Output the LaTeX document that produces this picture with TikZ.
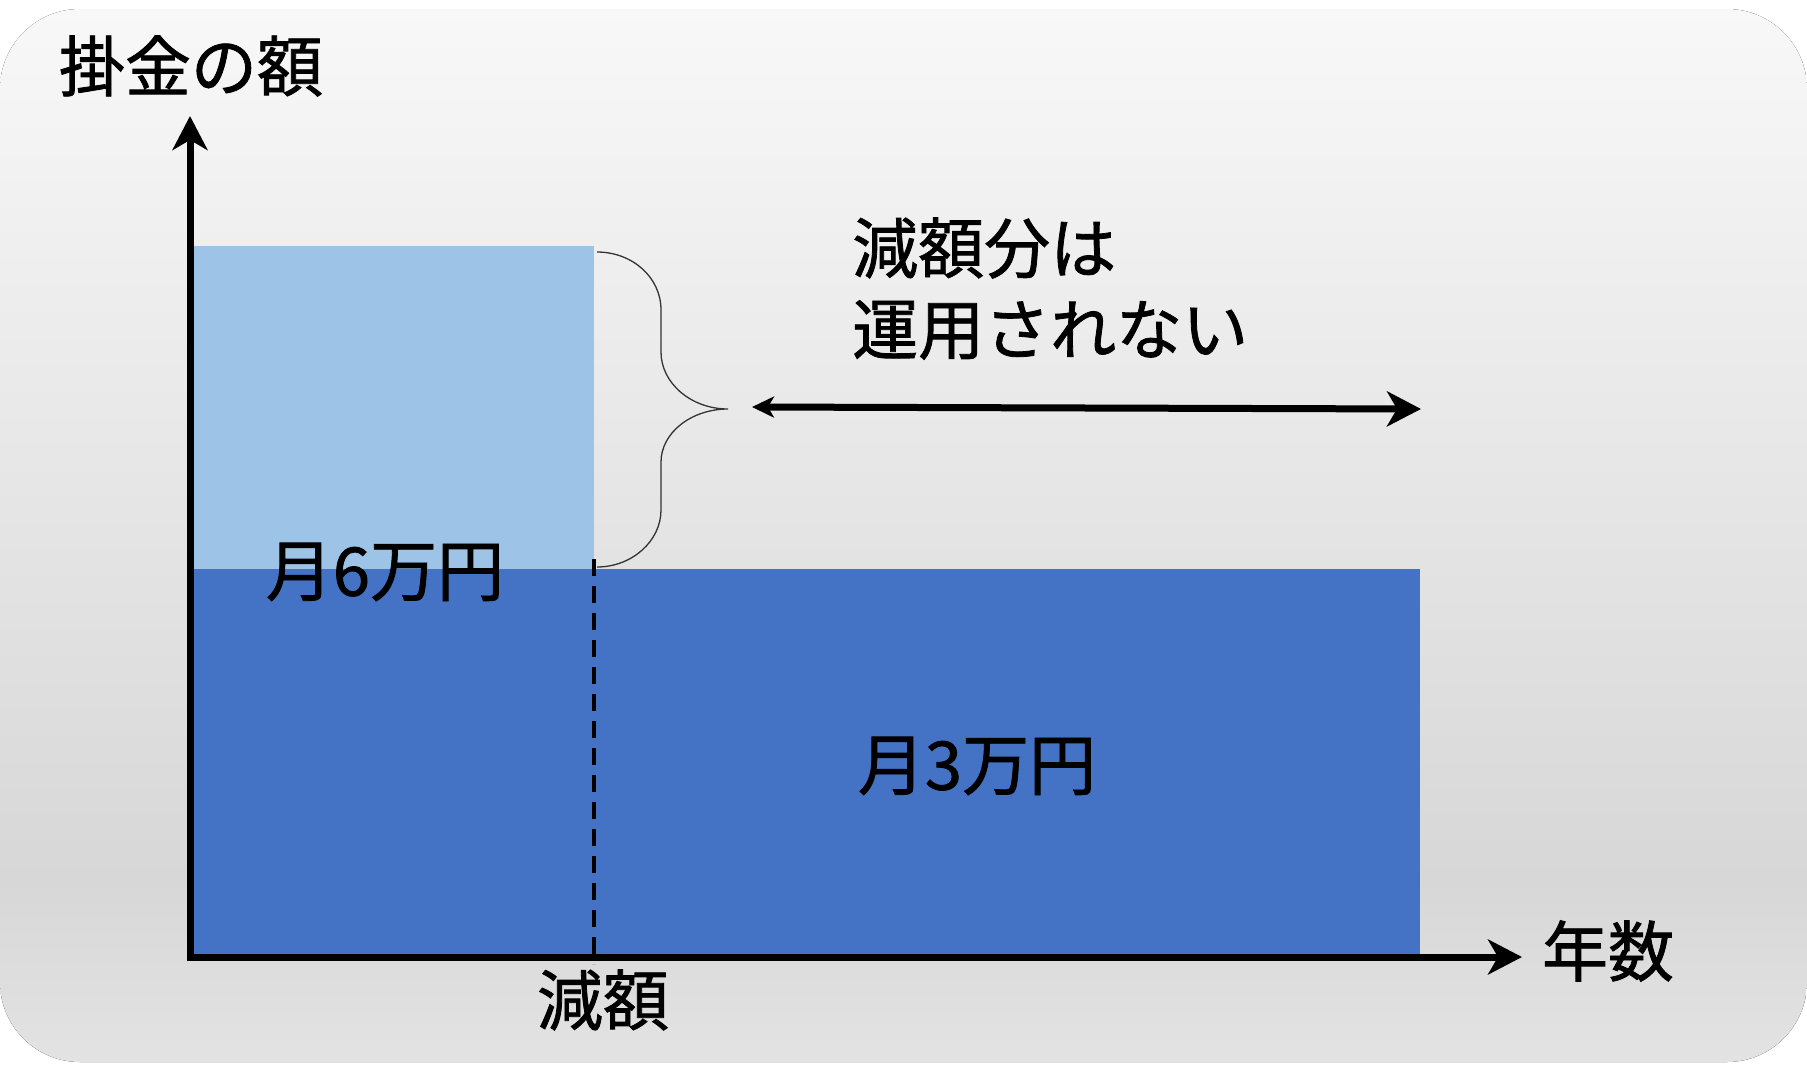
\documentclass[tikz,border=0pt]{standalone}
\usepackage{fontspec}
\newfontfamily\jp[FakeBold=1.2]{Noto Sans CJK JP}
\usetikzlibrary{arrows.meta}
\definecolor{bgtop}{HTML}{F8F8F8}
\definecolor{bgmid}{HTML}{D7D7D7}
\definecolor{bgbot}{HTML}{E3E3E3}
\definecolor{lightblue}{HTML}{9DC3E6}
\definecolor{darkblue}{HTML}{4472C4}
\definecolor{bracecol}{HTML}{333333}
\tikzset{
  lbl/.style={font=\jp\fontsize{66pt}{66pt}\selectfont, inner sep=0pt, text=black},
  mlbl/.style={font=\jp\fontsize{67pt}{67pt}\selectfont, inner sep=0pt, text=black},
  axisline/.style={line width=7pt, line join=miter, arrows={Stealth[length=34pt,width=35pt,inset=10pt]-Stealth[length=34pt,width=35pt,inset=10pt]}},
  spanarrow/.style={line width=7pt, arrows={Stealth[length=22pt,width=21pt,inset=6pt]-Stealth[length=34pt,width=35pt,inset=10pt]}},
  bracestyle/.style={line width=1.3pt, draw=bracecol},
  dashline/.style={line width=3.5pt, dash pattern=on 17pt off 10pt}
}
\begin{document}
\begin{tikzpicture}[x=1pt,y=-1pt]
\useasboundingbox (0,0) rectangle (1807,1076);
% background
\begin{scope}
  \clip[rounded corners=80pt] (0,9) rectangle (1807,1062);
  \fill[top color=bgtop, bottom color=bgmid, draw=none] (-1,8) rectangle (1808,880);
  \fill[top color=bgmid, bottom color=bgbot, draw=none] (-1,879.5) rectangle (1808,1063);
\end{scope}
% bars
\fill[lightblue] (190,246) rectangle (594,569.5);
\fill[darkblue] (190,569) rectangle (1420,957);
% coordinates
\coordinate (O) at (190,957);
\coordinate (ytip) at (190,116);
\coordinate (xtip) at (1522,957);
\coordinate (aL) at (752,407);
\coordinate (aR) at (1421,409);
\coordinate (bT) at (597,252);
\coordinate (bB) at (597,567);
\coordinate (dT) at (594,559);
\coordinate (dB) at (594,964);
% dashed
\draw[dashline] (dT) -- (dB);
% axes
\draw[axisline] (ytip) -- (O) -- (xtip);
% span arrow
\draw[spanarrow] (aL) -- (aR);
% brace
\draw[bracestyle] (bT) .. controls (632,252) and (661,277) .. (661,310)
  -- (661,352) .. controls (661,383) and (691,409) .. (728,409)
  .. controls (691,409) and (661,433) .. (661,462)
  -- (661,510) .. controls (661,541) and (632,567) .. (bB);
% labels
\node[lbl] (ylab) at (191,66) {掛金の額};
\node[lbl, anchor=west] (note1) at (852,248) {減額分は};
\node[lbl, anchor=west] (note2) at (852,330) {運用されない};
\node[mlbl] (six) at (385,572) {月6万円};
\node[mlbl] (three) at (977,766) {月3万円};
\node[lbl] (xlab) at (1608,951) {年数};
\node[lbl] (cut) at (603,1000) {減額};
\end{tikzpicture}
\end{document}
